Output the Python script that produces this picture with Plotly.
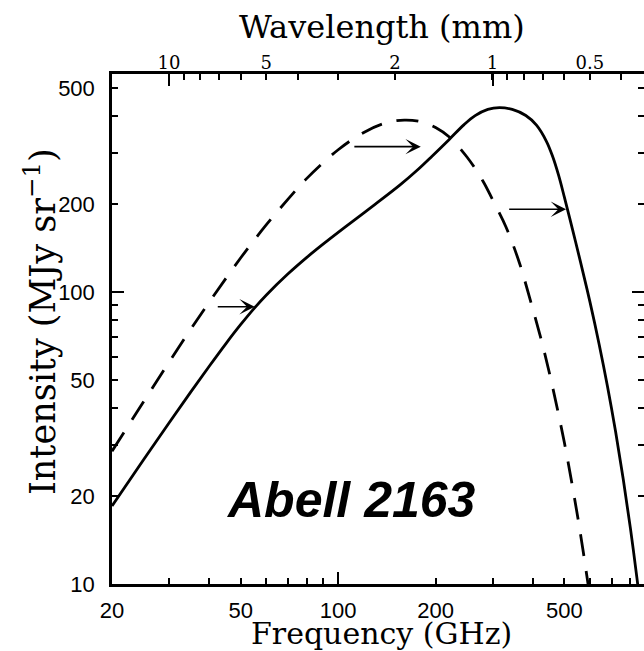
import math
import plotly.graph_objects as go

# ---------------- data ----------------
freq_dashed = [20, 25, 30, 35, 40, 50, 60, 70, 80, 100, 120, 140, 160, 180, 200,
               220, 250, 280, 300, 330, 363, 390, 420, 450, 500, 543, 570, 595, 610]
int_dashed = [28.5, 42, 57.5, 74.5, 92.5, 131, 170, 208, 245, 307, 352, 379, 388, 383, 366,
              340, 290, 240, 207, 167, 126, 96, 71.5, 52.5, 30.5, 18.4, 13.2, 9.6, 8.0]

freq_solid = [20, 25, 30, 35, 40, 45, 50, 55, 60, 70, 80, 90, 105, 130, 155, 175, 195,
              220, 245, 265, 290, 315, 345, 380, 410, 440, 460, 480, 500, 530, 560,
              600, 640, 680, 720, 760, 800, 840, 870]
int_solid = [18.5, 26.6, 35.6, 45.4, 55.8, 66.6, 77.4, 87.9, 97.7, 115.4, 131.4, 146.1,
             166.8, 199.6, 232.2, 260.6, 291.9, 332.5, 374.3, 401.7, 422.1, 428.1, 422.0,
             402.1, 372.7, 328.2, 291.1, 250.8, 211.3, 163.5, 127.6, 92.3, 66.4, 47.3,
             33.2, 22.9, 15.5, 10.25, 7.4]

arrow_tail_freq = [42, 111, 334]
arrow_tip_freq = [55.2, 180, 506]
arrow_intensity = [89, 314.6, 192]

x_tick_vals = [20, 30, 40, 50, 60, 70, 80, 90, 100, 200, 300, 400, 500, 600, 700, 800]
x_tick_text = ['20', '', '', '50', '', '', '', '', '100', '200', '', '', '500', '', '', '']
x_long_ticks = [100]

y_tick_vals = [10, 20, 30, 40, 50, 60, 70, 80, 90, 100, 200, 300, 400, 500]
y_tick_text = ['10', '20', '', '', '50', '', '', '', '', '100', '200', '', '', '500']
y_long_ticks = [100]

wl_ticks = [10, 9, 8, 7, 6, 5, 4, 3, 2, 1, 0.9, 0.8, 0.7, 0.6, 0.5, 0.4]
wl_text = ['10', '', '', '', '', '5', '', '', '2', '1', '', '', '', '', '0.5', '']
wl_long = [10, 1]
C_MM_GHZ = 299.792458

# ---------------- layout geometry ----------------
W, H = 644, 651
ML, MR, MT, MB = 112, 0, 74, 67
X_RANGE = [math.log10(20), 2.94503]
Y_RANGE = [1.0, 2.7466]

fig = go.Figure()
fig.add_trace(go.Scatter(x=freq_dashed, y=int_dashed, mode='lines',
                         line=dict(color='black', width=2.8, dash='22px,15px', shape='spline'),
                         hoverinfo='skip', showlegend=False))
fig.add_trace(go.Scatter(x=freq_solid, y=int_solid, mode='lines',
                         line=dict(color='black', width=2.8, shape='spline'),
                         hoverinfo='skip', showlegend=False))
# invisible trace so the overlay axes (top wavelength axis, right ticks) are drawn
fig.add_trace(go.Scatter(x=freq_solid, y=int_solid, mode='lines', xaxis='x2', yaxis='y2',
                         line=dict(color='rgba(0,0,0,0)', width=0),
                         hoverinfo='skip', showlegend=False))

sans = 'Liberation Sans, Arial, sans-serif'
serif = 'DejaVu Serif, serif'

common_axis = dict(showgrid=False, zeroline=False, ticks='inside', tickcolor='black',
                   tickwidth=1.6, ticklen=6)


def long_minor(vals):
    return dict(tickmode='array', tickvals=vals, ticks='inside', ticklen=12,
                tickwidth=1.6, tickcolor='black', showgrid=False)


fig.update_layout(
    width=W, height=H,
    margin=dict(l=ML, r=MR, t=MT, b=MB, pad=0),
    paper_bgcolor='white', plot_bgcolor='white',
    showlegend=False,
    xaxis=dict(type='log', range=X_RANGE, showline=True, linecolor='black', linewidth=2.5,
               tickmode='array', tickvals=x_tick_vals, ticktext=x_tick_text,
               tickfont=dict(family=sans, size=22, color='black'), ticklabelstandoff=5,
               minor=long_minor([v * 1.0001 for v in x_long_ticks]),
               **common_axis),
    xaxis2=dict(type='log', range=X_RANGE, overlaying='x', side='top', anchor='y',
                showline=True, linecolor='black', linewidth=2.5,
                tickmode='array', tickvals=[C_MM_GHZ / l for l in wl_ticks], ticktext=wl_text,
                tickfont=dict(family=serif, size=18, color='black'), ticklabelstandoff=-5,
                minor=long_minor([C_MM_GHZ / l * 1.0001 for l in wl_long]),
                **common_axis),
    yaxis=dict(type='log', range=Y_RANGE, showline=True, linecolor='black', linewidth=2.5,
               tickmode='array', tickvals=y_tick_vals, ticktext=y_tick_text,
               tickfont=dict(family=sans, size=22, color='black'), ticklabelstandoff=10,
               minor=long_minor([v * 1.0001 for v in y_long_ticks]),
               **common_axis),
    yaxis2=dict(type='log', range=Y_RANGE, overlaying='y', side='right', anchor='x',
                showline=False, showticklabels=False,
                tickmode='array', tickvals=y_tick_vals,
                minor=long_minor([v * 1.0001 for v in y_long_ticks]),
                **common_axis),
)

plot_w = W - ML - MR
plot_h = H - MT - MB


def px_x(px):
    return (px - ML) / plot_w


def px_y(py):
    return (H - MB - py) / plot_h


annotations = [
    dict(text='Wavelength (mm)', xref='paper', yref='paper', x=px_x(382), y=px_y(27),
         xanchor='center', yanchor='middle', showarrow=False,
         font=dict(family=serif, size=32, color='black')),
    dict(text='Frequency (GHz)', xref='paper', yref='paper', x=px_x(381), y=px_y(633),
         xanchor='center', yanchor='middle', showarrow=False,
         font=dict(family=serif, size=30, color='black')),
    dict(text='Intensity (MJy sr<sup>\u22121</sup>)', xref='paper', yref='paper',
         x=px_x(40), y=px_y(322), xanchor='center', yanchor='middle', textangle=-90,
         showarrow=False, font=dict(family=serif, size=35, color='black')),
    dict(text='<b><i>Abell 2163</i></b>', xref='paper', yref='paper', x=px_x(351), y=px_y(500),
         xanchor='center', yanchor='middle', showarrow=False,
         font=dict(family=sans, size=50, color='black')),
]

for tail, tip, yv in zip(arrow_tail_freq, arrow_tip_freq, arrow_intensity):
    annotations.append(dict(
        x=math.log10(tip), y=math.log10(yv), ax=math.log10(tail), ay=math.log10(yv),
        xref='x', yref='y', axref='x', ayref='y', text='', showarrow=True,
        arrowhead=3, arrowsize=1.6, arrowwidth=1.6, arrowcolor='black'))

fig.update_layout(annotations=annotations)

fig.write_html("out.html",
               config={'displayModeBar': False},
               post_script="document.body.style.margin='0';document.body.style.overflow='hidden';")
